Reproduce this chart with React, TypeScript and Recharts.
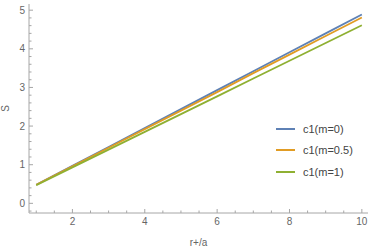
import React from "react"
import { LineChart, Line, XAxis, YAxis } from "recharts"

// r+/a sample points
const rValues = [1, 2, 3, 4, 5, 6, 7, 8, 9, 10]
// S
const sM0 = [0.48, 0.97, 1.46, 1.95, 2.44, 2.93, 3.42, 3.91, 4.4, 4.89]
const sM05 = [0.48, 0.96, 1.44, 1.92, 2.4, 2.88, 3.37, 3.85, 4.33, 4.81]
const sM1 = [0.47, 0.93, 1.39, 1.85, 2.31, 2.77, 3.23, 3.69, 4.15, 4.61]

const xTicks = [1, 1.5, 2, 2.5, 3, 3.5, 4, 4.5, 5, 5.5, 6, 6.5, 7, 7.5, 8, 8.5, 9, 9.5, 10]
const xMajor = [2, 4, 6, 8, 10]
const yTicks = [-0.2, 0, 0.2, 0.4, 0.6, 0.8, 1, 1.2, 1.4, 1.6, 1.8, 2, 2.2, 2.4, 2.6, 2.8, 3, 3.2, 3.4, 3.6, 3.8, 4, 4.2, 4.4, 4.6, 4.8, 5]
const yMajor = [0, 1, 2, 3, 4, 5]

const series = [
  { key: "m0", name: "c1(m=0)", color: "#5E81B5" },
  { key: "m05", name: "c1(m=0.5)", color: "#E19C24" },
  { key: "m1", name: "c1(m=1)", color: "#8FB032" },
]

const data = rValues.map((r, i) => ({ r, m0: sM0[i], m05: sM05[i], m1: sM1[i] }))

const FRAME = "#a6a6a6"
const TEXT = "#666"
const FONT = "'Liberation Sans', Arial, sans-serif"

const isMajor = (list: number[], v: number) => list.some((m) => Math.abs(m - v) < 1e-6)

function BottomTick(props: any) {
  const { x, y, payload } = props
  const major = isMajor(xMajor, payload.value)
  return (
    <g>
      <line x1={x} x2={x} y1={y} y2={y - (major ? 4 : 2.5)} stroke={FRAME} />
      {major && (
        <text x={x} y={y + 5} dy="0.71em" textAnchor="middle" fontSize={10} fill={TEXT} fontFamily={FONT}>
          {payload.value}
        </text>
      )}
    </g>
  )
}

function TopTick(props: any) {
  const { x, y, payload } = props
  const major = isMajor(xMajor, payload.value)
  return <line x1={x} x2={x} y1={y} y2={y + (major ? 4 : 2.5)} stroke={FRAME} />
}

function LeftTick(props: any) {
  const { x, y, payload } = props
  const major = isMajor(yMajor, payload.value)
  return (
    <g>
      <line x1={x} x2={x + (major ? 4 : 2.5)} y1={y} y2={y} stroke={FRAME} />
      {major && (
        <text x={x - 4} y={y} dy="0.35em" textAnchor="end" fontSize={10} fill={TEXT} fontFamily={FONT}>
          {payload.value}
        </text>
      )}
    </g>
  )
}

function RightTick(props: any) {
  const { x, y, payload } = props
  const major = isMajor(yMajor, payload.value)
  return <line x1={x} x2={x - (major ? 4 : 2.5)} y1={y} y2={y} stroke={FRAME} />
}

function YLabel(props: any) {
  const vb = props.viewBox
  const cx = vb.x + 5
  const cy = vb.y + vb.height / 2
  return (
    <text x={cx} y={cy} dy="0.35em" textAnchor="middle" fontSize={10} fill={TEXT} fontFamily={FONT} transform={`rotate(-90 ${cx} ${cy})`}>
      S
    </text>
  )
}

export default function App() {
  const xDomain = [0.8, 10.17]
  const yDomain = [-0.25, 5.16]
  return (
    <div style={{ position: "absolute", left: 0, top: 0, width: 374, height: 251, background: "#fff" }}>
      <LineChart width={374} height={251} data={data} margin={{ top: 4, right: 6, left: 0, bottom: 0 }}>
        <XAxis
          xAxisId="b"
          dataKey="r"
          type="number"
          domain={xDomain}
          allowDataOverflow
          ticks={xTicks}
          interval={0}
          height={38}
          tickSize={0}
          tickMargin={0}
          tickLine={false}
          axisLine={{ stroke: FRAME }}
          tick={<BottomTick />}
          label={{ value: "r+/a", position: "insideBottom", offset: 5, fontSize: 10, fill: TEXT, fontFamily: FONT }}
        />
        <XAxis
          xAxisId="t"
          orientation="top"
          dataKey="r"
          type="number"
          domain={xDomain}
          allowDataOverflow
          ticks={xTicks}
          interval={0}
          height={0}
          tickSize={0}
          tickMargin={0}
          tickLine={false}
          axisLine={{ stroke: FRAME }}
          tick={<TopTick />}
        />
        <YAxis
          yAxisId="l"
          type="number"
          domain={yDomain}
          allowDataOverflow
          ticks={yTicks}
          interval={0}
          width={29}
          tickSize={0}
          tickMargin={0}
          tickLine={false}
          axisLine={{ stroke: FRAME }}
          tick={<LeftTick />}
          label={{ content: <YLabel /> }}
        />
        <YAxis
          yAxisId="r"
          orientation="right"
          type="number"
          domain={yDomain}
          allowDataOverflow
          ticks={yTicks}
          interval={0}
          width={0}
          tickSize={0}
          tickMargin={0}
          tickLine={false}
          axisLine={{ stroke: FRAME }}
          tick={<RightTick />}
        />
        {series.map((s) => (
          <Line
            key={s.key}
            xAxisId="b"
            yAxisId="l"
            dataKey={s.key}
            name={s.name}
            stroke={s.color}
            strokeWidth={1.8}
            dot={false}
            type="linear"
            isAnimationActive={false}
          />
        ))}
      </LineChart>
      <div style={{ position: "absolute", left: 276, top: 118, fontFamily: FONT, fontSize: 11, color: "#444" }}>
        {series.map((s) => (
          <div key={s.key} style={{ display: "flex", alignItems: "center", height: 21.5 }}>
            <span style={{ display: "inline-block", width: 19, height: 2, background: s.color, marginRight: 8 }} />
            <span>{s.name}</span>
          </div>
        ))}
      </div>
    </div>
  )
}
